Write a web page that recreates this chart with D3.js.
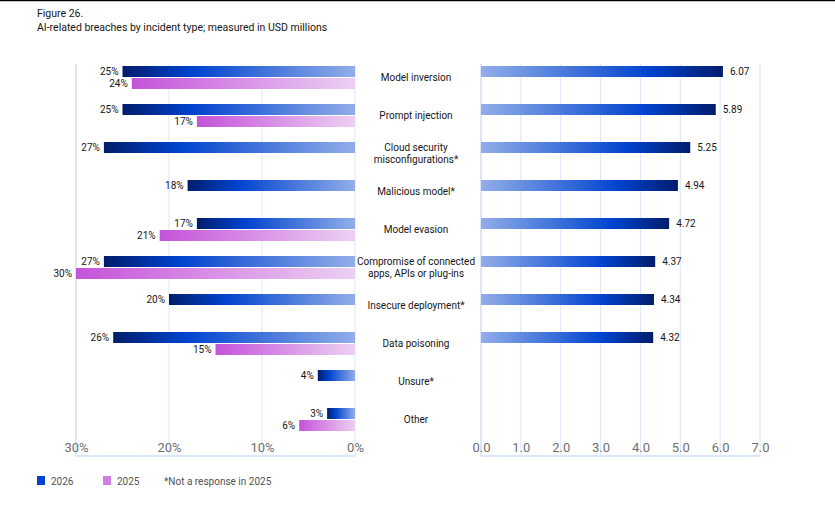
<!DOCTYPE html>
<html><head><meta charset="utf-8">
<script src="https://cdn.jsdelivr.net/npm/d3@7"></script>
<style>
body{margin:0;background:#fff;font-family:"Liberation Sans Narrow","Roboto",sans-serif;}
</style></head><body>
<script>
const categories = ["Model inversion","Prompt injection","Cloud security\nmisconfigurations*","Malicious model*","Model evasion","Compromise of connected\napps, APIs or plug-ins","Insecure deployment*","Data poisoning","Unsure*","Other"];
const share2026 = [25,25,27,18,17,27,20,26,4,3];
const share2025 = [24,17,null,null,21,30,null,15,null,6];
const cost = [6.07,5.89,5.25,4.94,4.72,4.37,4.34,4.32,null,null];
const pctTicks = [30,20,10,0];
const costTicks = [0,1,2,3,4,5,6,7];

const W = 835, H = 510;
const svg = d3.select("body").append("svg").attr("width", W).attr("height", H);
const defs = svg.append("defs");
function grad(id, stops){
  const g = defs.append("linearGradient").attr("id", id);
  stops.forEach(s => g.append("stop").attr("offset", s[0]).attr("stop-color", s[1]));
}
grad("g26", [[0,"#001d6c"],[0.3,"#0043ce"],[1,"#92aee9"]]);
grad("g25", [[0,"#c553da"],[1,"#ecd0f3"]]);
grad("gcost", [[0,"#92aee9"],[0.7,"#0043ce"],[1,"#001d6c"]]);

svg.append("line").attr("x1",0).attr("x2",W).attr("y1",0.5).attr("y2",0.5).attr("stroke","#000").attr("stroke-width",1.5);
svg.append("text").attr("x",37).attr("y",17).attr("font-size",10.5).attr("fill","#161616").text("Figure 26.");
svg.append("text").attr("x",37).attr("y",31).attr("font-size",10.5).attr("fill","#161616").text("AI-related breaches by incident type; measured in USD millions");

const plotTop = 58, plotBottom = 438;
const y = d3.scaleBand().domain(d3.range(categories.length)).range([plotTop, plotBottom]);
const xl = d3.scaleLinear().domain([30,0]).range([76,355]);
const xr = d3.scaleLinear().domain([0,7]).range([481,760]);
const gridC = "#dbe6fb";

// grids
svg.append("g").selectAll("line").data(pctTicks).join("line")
  .attr("x1",d=>xl(d)).attr("x2",d=>xl(d)).attr("y1",64).attr("y2",456)
  .attr("stroke",gridC).attr("stroke-width",d=>d===30?2:1);
svg.append("g").selectAll("line").data(costTicks).join("line")
  .attr("x1",d=>xr(d)).attr("x2",d=>xr(d)).attr("y1",64).attr("y2",456)
  .attr("stroke",gridC).attr("stroke-width",d=>d===0?2:1);
[[76,355],[481,760]].forEach(([a,b]) => svg.append("line").attr("x1",a).attr("x2",b).attr("y1",456).attr("y2",456).attr("stroke",gridC).attr("stroke-width",2));

function axisText(g){ g.select(".domain").remove(); g.selectAll(".tick line").remove();
  g.selectAll("text").attr("font-size",13).attr("fill","#6f6f6f").attr("font-family","Liberation Sans Narrow, Roboto, sans-serif"); }
svg.append("g").attr("transform","translate(0,440)").call(d3.axisBottom(xl).tickValues(pctTicks).tickFormat(d=>d+"%").tickSize(0)).call(axisText);
svg.append("g").attr("transform","translate(0,440)").call(d3.axisBottom(xr).tickValues(costTicks).tickSize(0)).call(axisText);

const rows = svg.append("g").selectAll("g").data(categories).join("g").attr("transform",(d,i)=>`translate(0,${y(i)})`);
const bh = 11;
rows.append("rect").attr("x",(d,i)=>xl(share2026[i])).attr("y",8).attr("height",bh)
  .attr("width",(d,i)=>xl(0)-xl(share2026[i])).attr("fill","url(#g26)");
rows.append("text").attr("x",(d,i)=>xl(share2026[i])-4).attr("y",17).attr("text-anchor","end")
  .attr("font-size",10).attr("fill","#161616").text((d,i)=>share2026[i]+"%");
rows.filter((d,i)=>share2025[i]!=null).each(function(d){
  const i = categories.indexOf(d), g = d3.select(this);
  g.append("rect").attr("x",xl(share2025[i])).attr("y",20).attr("height",bh).attr("width",xl(0)-xl(share2025[i])).attr("fill","url(#g25)");
  g.append("text").attr("x",xl(share2025[i])-4).attr("y",29).attr("text-anchor","end").attr("font-size",10).attr("fill","#161616").text(share2025[i]+"%");
});
rows.filter((d,i)=>cost[i]!=null).each(function(d){
  const i = categories.indexOf(d), g = d3.select(this);
  g.append("rect").attr("x",xr(0)).attr("y",8).attr("height",bh).attr("width",xr(cost[i])-xr(0)).attr("fill","url(#gcost)");
  g.append("text").attr("x",xr(cost[i])+7).attr("y",17).attr("font-size",10).attr("fill","#161616").text(cost[i].toFixed(2));
});
rows.each(function(d){
  const lines = d.split("\n"), g = d3.select(this);
  const t = g.append("text").attr("x",416).attr("text-anchor","middle").attr("font-size",10).attr("fill","#161616");
  lines.forEach((l,k)=>t.append("tspan").attr("x",416).attr("y",23 + (k-(lines.length-1)/2)*12).text(l));
});

// legend
const leg = svg.append("g").attr("transform","translate(37,476)");
leg.append("rect").attr("width",8).attr("height",9).attr("fill","#0043ce");
leg.append("text").attr("x",14).attr("y",8.5).attr("font-size",10).attr("fill","#525252").text("2026");
leg.append("rect").attr("x",66).attr("width",8).attr("height",9).attr("fill","#d07fe0");
leg.append("text").attr("x",80).attr("y",8.5).attr("font-size",10).attr("fill","#525252").text("2025");
leg.append("text").attr("x",127).attr("y",8.5).attr("font-size",10).attr("fill","#525252").text("*Not a response in 2025");
</script>
</body></html>
